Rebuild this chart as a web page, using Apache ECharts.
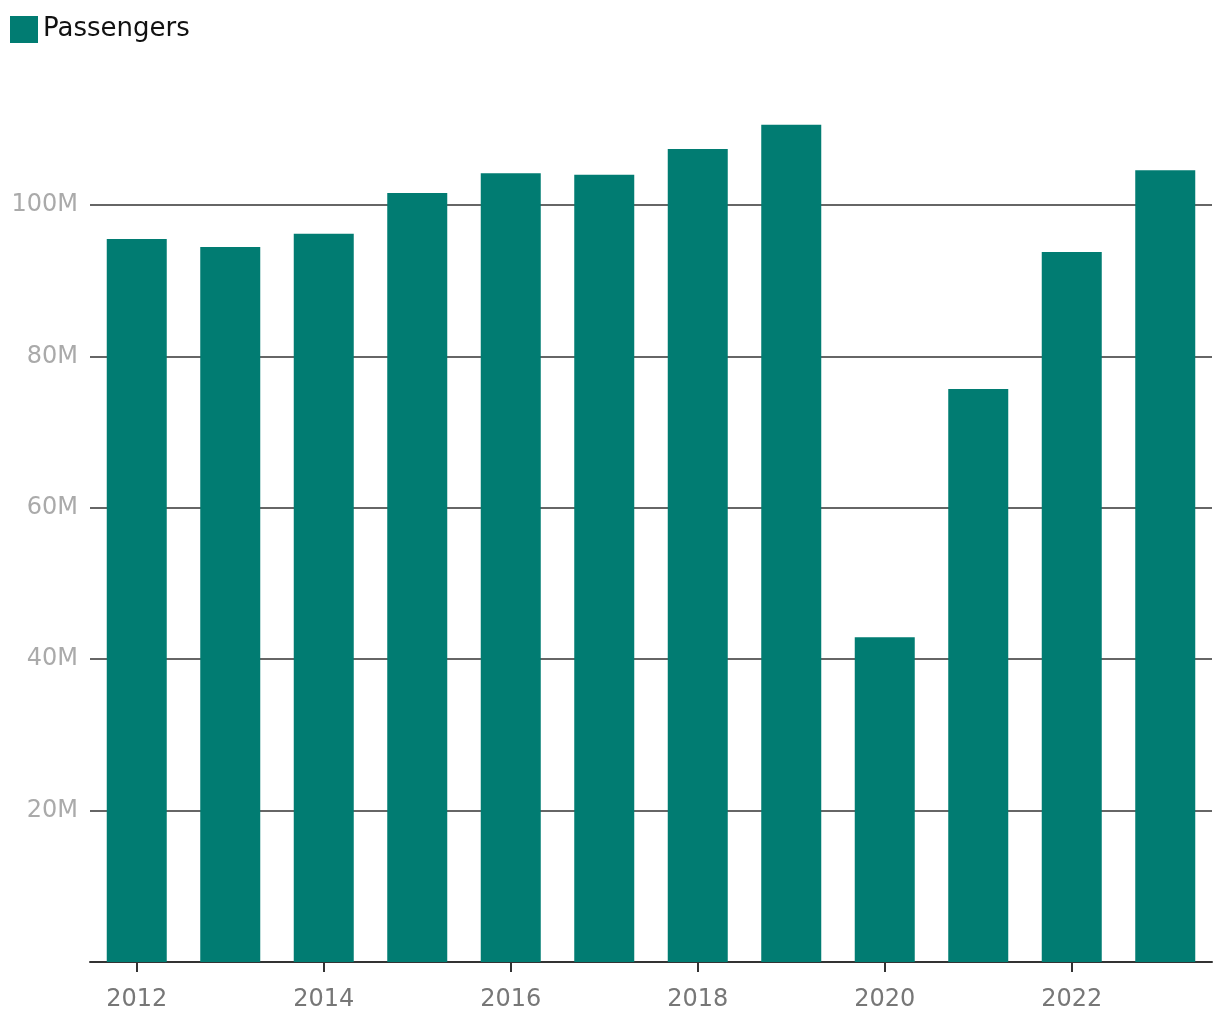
<!DOCTYPE html>
<html>
<head>
<meta charset="utf-8">
<script src="https://cdn.jsdelivr.net/npm/echarts@6/dist/echarts.min.js"></script>
<style>
html,body{margin:0;padding:0;background:#fff;}
#chart{width:1220px;height:1020px;}
</style>
</head>
<body>
<div id="chart"></div>
<script>
const years = ['2012','2013','2014','2015','2016','2017','2018','2019','2020','2021','2022','2023'];
const passengers = [95.5, 94.45, 96.2, 101.6, 104.2, 104.0, 107.4, 110.6, 42.9, 75.7, 93.8, 104.6];
const seriesName = 'Passengers';

const chart = echarts.init(document.getElementById('chart'));
chart.setOption({
  animation: false,
  textStyle: { fontFamily: 'DejaVu Sans' },
  legend: {
    left: 5, top: 11,
    icon: 'rect', itemWidth: 28, itemHeight: 27, itemGap: 10,
    textStyle: { fontSize: 26, color: '#111', fontFamily: 'DejaVu Sans' },
    data: [seriesName]
  },
  grid: { left: 90, right: 8, top: 53.6, bottom: 58, containLabel: false },
  xAxis: {
    type: 'category',
    data: years,
    axisLine: { show: true, lineStyle: { color: '#333', width: 2 } },
    axisTick: { show: true, alignWithLabel: true, length: 10, interval: 1, lineStyle: { color: '#333', width: 2 } },
    axisLabel: { interval: 1, margin: 26, fontSize: 24, color: '#777' }
  },
  yAxis: {
    type: 'value',
    min: 0, max: 120, interval: 20,
    axisLine: { show: false },
    axisTick: { show: false },
    splitLine: { show: true, showMinLine: false, showMaxLine: false, lineStyle: { color: '#666', width: 2 } },
    axisLabel: {
      showMinLabel: false, showMaxLabel: false,
      margin: 12, fontSize: 24, color: '#aaa', padding: [4, 0, 0, 0],
      formatter: v => (v === 0 || v === 120) ? '' : v + 'M'
    }
  },
  series: [{
    name: seriesName,
    type: 'bar',
    data: passengers,
    barWidth: 60,
    itemStyle: { color: '#017C72' }
  }]
});
</script>
</body>
</html>
